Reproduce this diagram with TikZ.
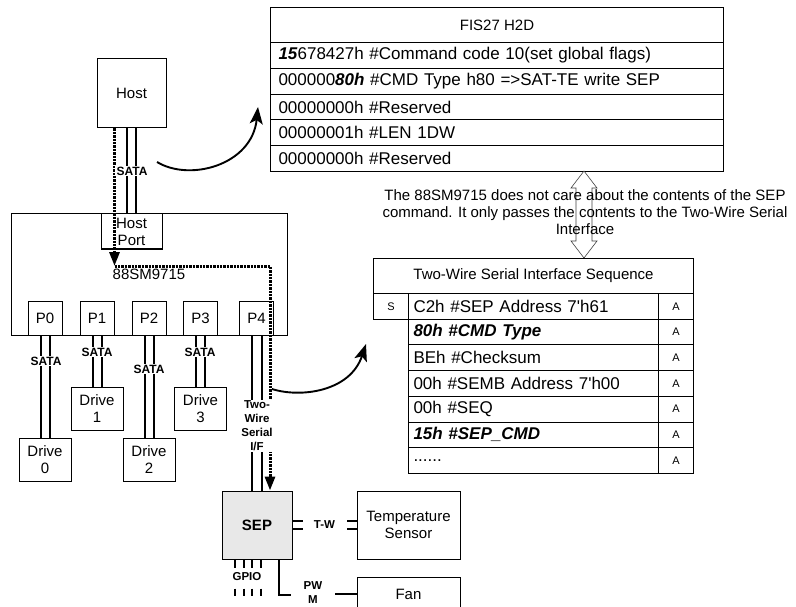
\documentclass[tikz,border=0pt]{standalone}
\usepackage{fontspec}
\setmainfont{Liberation Sans}
\usetikzlibrary{arrows.meta,calc}
\newcommand\fsz[2]{\fontsize{#1}{#2}\selectfont}
\begin{document}
\begin{tikzpicture}[x=1pt,y=-1pt,
  every node/.style={inner sep=0pt},
  box/.style={draw=black, line width=1pt, align=center, font=\fsz{15}{17}},
  cell/.style={draw=black, line width=1pt, anchor=north west, font=\fsz{15}{17}},
  rowtxt/.style={cell, text width=#1, align=left, font=\fsz{17}{18}},
  smallc/.style={cell, minimum width=35pt, font=\fsz{11}{13}},
  bus/.style={line width=2pt},
  dots/.style={line width=3pt, dash pattern=on 2.4pt off 1pt},
  lbl/.style={font=\bfseries\fsz{12}{14}, fill=white, inner xsep=1.5pt, inner ysep=1pt, align=center},
  curv/.style={line width=1.9pt, -{Stealth[length=17pt,width=13pt,inset=4pt]}},
  dtip/.style={-{Triangle[length=14pt,width=10pt]}}
]
\useasboundingbox (0,0) rectangle (796,607);

% ---------- left block ----------
\node[box, minimum width=69pt, minimum height=69pt] (host) at (131.5,93.5) {Host};
\node[box, minimum width=276pt, minimum height=121pt] (chip) at (149,274.5) {88SM9715};
\node[box, fill=white, minimum width=61pt, minimum height=35pt] (hport) at (131.5,231.5) {Host\\Port};
\foreach \n/\x in {0/45,1/97,2/149,3/200.5,4/256.5}
  \node[box, minimum width=34pt, minimum height=34pt] (p\n) at (\x,318) {P\n};
\foreach \n/\x/\y in {0/45/459.5,1/97/408.5,2/149/459.5,3/200.5/408.5}
  \node[box, minimum width=52pt, minimum height=43pt] (drive\n) at (\x,\y) {Drive\\\n};

\node[box, fill=gray!18, minimum width=70pt, minimum height=68pt, font=\bfseries\fsz{15}{17}] (sep) at (257,525) {SEP};
\node[box, minimum width=103pt, minimum height=68pt] (temp) at (408.5,525) {Temperature\\Sensor};
\node[box, minimum width=103pt, minimum height=34pt] (fan) at (408.5,594) {Fan};

% buses
\foreach \d in {-4.5pt,4pt}
  \draw[bus] ([xshift=\d]host.south) -- ([xshift=\d]hport.north);
\foreach \n in {0,...,3}
  \foreach \d in {-4.5pt,4.5pt}
    \draw[bus] ([xshift=\d]p\n.south) -- ([xshift=\d]drive\n.north);
\foreach \d in {-4.5pt,5pt}
  \draw[bus] ([xshift=\d]p4.south) -- ([xshift=\d]p4.south |- sep.north);

% dotted data path
\coordinate (turn1) at (114.5,266);
\coordinate (turn2) at (270,266);
\draw[dots, dtip] ([xshift=-17pt]host.south) -- (turn1);
\draw[dots, dtip] (turn1) -- (turn2) -- (turn2 |- sep.north);

% labels on buses
\node[lbl] (lh) at (132,171) {SATA};
\node[lbl] (l0) at (46,361) {SATA};
\node[lbl] (l1) at (97,352) {SATA};
\node[lbl] (l2) at (149,369) {SATA};
\node[lbl] (l3) at (200,352) {SATA};
\node[lbl, font=\bfseries\fsz{11.5}{14}] (l4) at (257,426) {Two-\\Wire\\Serial\\I/F};

% T-W link
\foreach \d in {4.5pt,-4pt} {
  \draw[bus] ([yshift=\d]sep.east) -- ++(10,0);
  \draw[bus] ([yshift=\d]temp.west) -- ++(-10,0);
}
\node[font=\bfseries\fsz{11.5}{13}] (tw) at (324.5,525) {T-W};

% GPIO
\foreach \d in {-22pt,-13.5pt,-5pt,3.5pt} {
  \draw[bus] ([xshift=\d]sep.south) -- ++(0,8);
  \draw[bus] ([xshift=\d, yshift=-29pt]sep.south) -- ++(0,7);
}
\node[font=\bfseries\fsz{11.5}{13}] (gpio) at (247,577) {GPIO};

% PWM
\draw[bus] ([xshift=22pt]sep.south) -- ++(0,35) -- ++(12,0);
\draw[bus] (fan.west) -- ++(-22,0);
\node[font=\bfseries\fsz{11.5}{14}, align=center] (pwm) at (313,593) {PW\\M};

% ---------- FIS table ----------
\node[cell, minimum width=453pt, minimum height=35pt] (fish) at (270,7) {FIS27 H2D};
\node[rowtxt=437pt, inner xsep=8pt, minimum height=25.8pt] (f1) at (270,42)
  {\textbf{\textit{15}}678427h \#Command code 10(set global flags)};
\node[rowtxt=437pt, inner xsep=8pt, minimum height=25.8pt] (f2) at (270,67.8)
  {000000\textbf{\textit{80h}} \#CMD Type h80 =>SAT-TE write SEP};
\node[rowtxt=437pt, inner xsep=8pt, minimum height=25.8pt] (f3) at (270,93.6)
  {00000000h \#Reserved};
\node[rowtxt=437pt, inner xsep=8pt, minimum height=25.8pt] (f4) at (270,119.4)
  {00000001h \#LEN 1DW};
\node[rowtxt=437pt, inner xsep=8pt, minimum height=25.8pt] (f5) at (270,145.2)
  {00000000h \#Reserved};

% ---------- double arrow + note ----------
\draw[line width=0.6pt, black!75] (584,171) -- (597,188) -- (592,188) -- (592,241) -- (597,241)
  -- (584,258) -- (571,241) -- (576,241) -- (576,188) -- (571,188) -- cycle;
\node[font=\fsz{15}{17}, align=center] (note) at (585,212)
  {The 88SM9715 does not care about the contents of the SEP\\
   command. It only passes the contents to the Two-Wire Serial\\
   Interface};

% ---------- Two-wire table ----------
\node[cell, minimum width=320pt, minimum height=35pt] (twh) at (373,258) {Two-Wire Serial Interface Sequence};
\node[smallc, minimum height=25.7pt] (scell) at (373,293) {S};
\foreach \i/\t in {1/{C2h \#SEP Address 7\textquotesingle h61},
                   2/{\textbf{\textit{80h \#CMD Type}}},
                   3/{BEh \#Checksum},
                   4/{00h \#SEMB Address 7\textquotesingle h00},
                   5/{00h \#SEQ},
                   6/{\textbf{\textit{15h \#SEP\_CMD}}},
                   7/{......}} {
  \node[rowtxt=240pt, inner xsep=5pt, minimum height=25.7pt] (tw\i) at (408,{293+(\i-1)*25.7}) {\t};
  \node[smallc, minimum height=25.7pt] (a\i) at (658,{293+(\i-1)*25.7}) {A};
}

% ---------- curved arrows ----------
\coordinate (c1s) at (157,162);
\coordinate (c1e) at (258,107);
\draw[curv] (c1s) .. controls (190,182) and (252,165) .. (c1e);
\coordinate (c2s) at (272,389);
\coordinate (c2e) at (366,344);
\draw[curv] (c2s) .. controls (300,398) and (350,392) .. (c2e);
\end{tikzpicture}
\end{document}
